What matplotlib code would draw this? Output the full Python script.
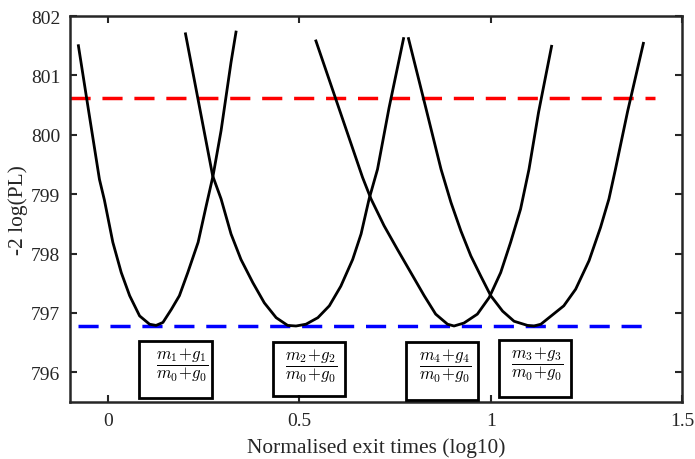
"""
plot.py — profile likelihood curves for the exit-time models.
"""

import matplotlib
matplotlib.use("Agg")
import matplotlib.pyplot as plt
from matplotlib.patches import Rectangle

# ── Data ─────────────────────────────────────────────────────────────────────
c1_x = [-0.078, -0.050, -0.023, -0.010, 0.012, 0.034, 0.056, 0.082, 0.108, 0.125,
        0.143, 0.165, 0.186, 0.208, 0.235, 0.256, 0.274, 0.295, 0.321, 0.334]
c1_y = [801.50, 800.35, 799.25, 798.90, 798.19, 797.68, 797.29, 796.95, 796.81, 796.79,
        796.84, 797.06, 797.29, 797.68, 798.19, 798.80, 799.31, 800.07, 801.22, 801.73]

c2_x = [0.202, 0.273, 0.295, 0.321, 0.347, 0.378, 0.408, 0.439, 0.469, 0.491,
        0.517, 0.548, 0.578, 0.608, 0.639, 0.661, 0.682, 0.704, 0.734, 0.772]
c2_y = [801.70, 799.31, 798.92, 798.33, 797.90, 797.51, 797.17, 796.92, 796.79, 796.78,
        796.81, 796.92, 797.12, 797.45, 797.90, 798.33, 798.92, 799.42, 800.45, 801.62]

c3_x = [0.543, 0.604, 0.665, 0.687, 0.721, 0.756, 0.791, 0.826, 0.856, 0.887,
        0.904, 0.930, 0.965, 0.996, 1.026, 1.052, 1.078, 1.100, 1.125, 1.159]
c3_y = [801.58, 800.43, 799.28, 798.92, 798.47, 798.07, 797.68, 797.29, 796.98, 796.81,
        796.78, 796.83, 796.98, 797.26, 797.68, 798.19, 798.75, 799.42, 800.38, 801.49]

c4_x = [0.785, 0.830, 0.870, 0.896, 0.922, 0.948, 0.974, 1.000, 1.031, 1.061, 1.096,
        1.113, 1.131, 1.191, 1.222, 1.257, 1.287, 1.309, 1.326, 1.358, 1.399]
c4_y = [801.62, 800.46, 799.42, 798.86, 798.38, 797.96, 797.62, 797.29, 797.03, 796.86,
        796.79, 796.78, 796.81, 797.12, 797.40, 797.88, 798.44, 798.92, 799.42, 800.40, 801.54]

curves_x = [c1_x, c2_x, c3_x, c4_x]
curves_y = [c1_y, c2_y, c3_y, c4_y]

min_level = 796.78          # blue: minimum of -2 log(PL)
ci_level = 800.62           # red: minimum + 3.84
red_span = [-0.1, 1.43]

labels = [r"$\dfrac{m_1\!+\!g_1}{m_0\!+\!g_0}$", r"$\dfrac{m_2\!+\!g_2}{m_0\!+\!g_0}$",
          r"$\dfrac{m_4\!+\!g_4}{m_0\!+\!g_0}$", r"$\dfrac{m_3\!+\!g_3}{m_0\!+\!g_0}$"]
label_x = [0.1945, 0.530, 0.880, 1.120]
label_y = [796.13, 796.12, 796.12, 796.15]
box_x0 = [0.081, 0.431, 0.778, 1.021]
box_x1 = [0.272, 0.619, 0.966, 1.211]
box_y0 = [795.56, 795.60, 795.54, 795.58]
box_y1 = [796.52, 796.51, 796.51, 796.54]

# ── Style ────────────────────────────────────────────────────────────────────
plt.rcParams["font.family"] = ["Liberation Serif", "DejaVu Serif"]
plt.rcParams["mathtext.fontset"] = "cm"

AX_COLOR = "#262626"
DASH = (0, (5.8, 3.4))

fig = plt.figure(figsize=(6.95, 4.6), dpi=100, facecolor="white")
ax = fig.add_axes([0.1007, 0.1239, 0.8806, 0.8391])

# threshold lines
ax.plot(red_span, [ci_level, ci_level], color="red", lw=2.5, linestyle=DASH)
ax.plot([c1_x[0], c4_x[-1]], [min_level, min_level], color="blue", lw=2.5, linestyle=DASH)

# profile curves
for xs, ys in zip(curves_x, curves_y):
    ax.plot(xs, ys, color="black", lw=2.0, solid_joinstyle="round")

# model labels in boxes
for i, lab in enumerate(labels):
    ax.add_patch(Rectangle((box_x0[i], box_y0[i]), box_x1[i] - box_x0[i],
                           box_y1[i] - box_y0[i], fill=False, ec="black", lw=2.0,
                           zorder=5))
    ax.text(label_x[i], label_y[i], lab, ha="center", va="center", fontsize=12,
            color="black", zorder=6)

# ── Axes ─────────────────────────────────────────────────────────────────────
ax.set_xlim(-0.1, 1.5)
ax.set_ylim(795.5, 802)
ax.set_xticks([0, 0.5, 1, 1.5])
ax.set_xticklabels(["0", "0.5", "1", "1.5"])
ax.set_yticks([796, 797, 798, 799, 800, 801, 802])
ax.tick_params(direction="in", length=5, width=1.5, colors=AX_COLOR,
               labelsize=14, top=True, right=True, pad=7)
for s in ax.spines.values():
    s.set_color(AX_COLOR)
    s.set_linewidth(1.8)

ax.set_xlabel("Normalised exit times (log10)", fontsize=15.4, color=AX_COLOR, labelpad=6)
ax.set_ylabel("-2 log(PL)", fontsize=15.4, color=AX_COLOR, labelpad=2)

plt.savefig("out.png", dpi=100, facecolor="white")
plt.close()
